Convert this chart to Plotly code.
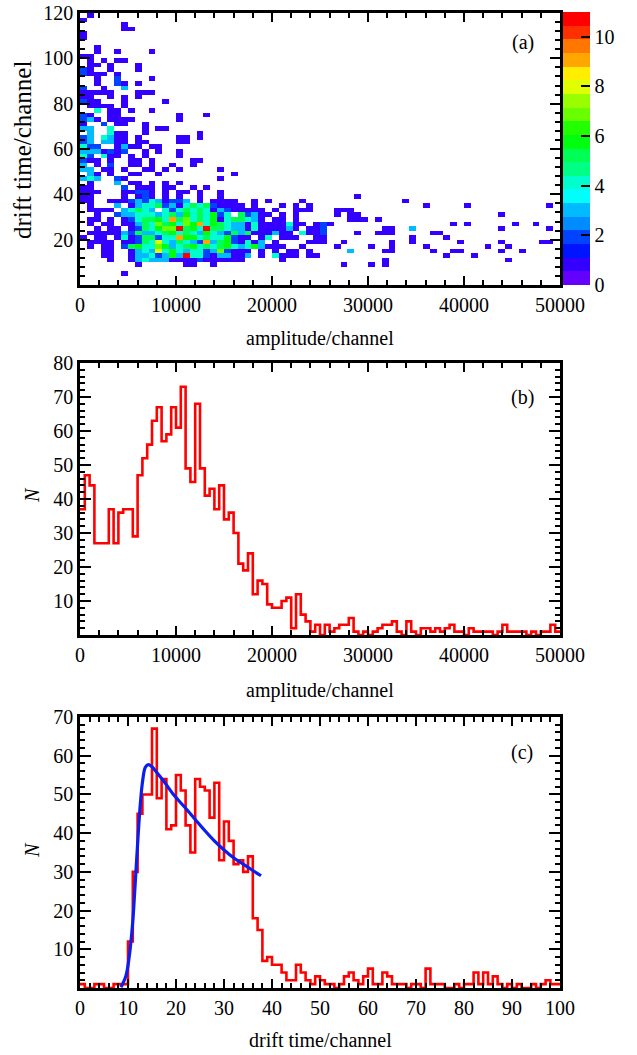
import colorsys
import plotly.graph_objects as go

W, H = 637, 1055

# ---------------- data ----------------
# (a) 2D histogram: drift-time bins of 2 channels (0..120), 70 amplitude bins (0..50000)
# rows listed from the top drift-time bin (118-120) downwards; '.' = empty bin,
# digits = counts, 'A' = 10, 'B' = 11; spaces only separate groups of ten bins.
AMP_MAX = 50000
AMP_BINS_2D = 70
DT_BIN_2D = 2
heat_rows_top_down = [
    ".1",                                   # 59
    "1",                                    # 58
    "......1",                              # 57
    "......11",                             # 56
    "1",                                    # 55
    "1",                                    # 54
    "",                                     # 53
    "..1",                                  # 52
    "..1..1.... 1",                         # 51
    "11",                                   # 50
    ".1.1.11",                              # 49
    ".11.1...1",                            # 48
    "21..1...1",                            # 47
    "2111.1",                               # 46
    "..1..2.... 1",                         # 45
    "..1..21.1",                            # 44
    "2..1..3",                              # 43
    "11111...11 1",                         # 42
    "11..1.1.1",                            # 41
    "211...1... ..1",                       # 40
    ".1111.1",                              # 39
    "..4.11.1.. 1",                         # 38
    "21..11.... ....1...1",                 # 37
    "231.1111.. ....1",                     # 36
    "1..2.11..1",                           # 35
    "33..4....1 .11",                       # 34
    ".3..411..1 .......1",                  # 33
    "23.4311.1. ....11.1",                  # 32
    "23.3311.11 ....11",                    # 31
    "422..1311. 11",                        # 30
    "3331212..1 .1..1",                     # 29
    "42.411.1.1 ....1",                     # 28
    "211.1..11. 1.....11",                  # 27
    "3.1.2..11. 1..1..1",                   # 26
    "33.11.1..1 1.1.1..... 1",              # 25
    ".31.1..11. .1........ ..1",            # 24
    "343..21... .......... 1",              # 23
    ".1...3.11. 1.1.1",                     # 22
    "11....2.11 1.11..1.1",                 # 21
    "111...1122 1.1.11.1.. 1",              # 20
    "11....1.12 1.1.1..1.. 1......... .......... 1",                          # 19
    "11..111232 431223.1.1 111..1.1.. ..1....... .......1",                   # 18
    ".1...3.134 4523145452 1111.1...1 .1.1...... .......... 1.....1... ........1",  # 17
    ".1111.3454 3.42454541 3211111.1. .111...111",                            # 16
    "..1..23344 4345364546 24.52311.1 .1.....1.1 1......... .......... .1",   # 15
    ".11.1.1245 5649574546 1455431.11 .1.......1 11.1",                       # 14
    ".1.11.1135 4756476946 5433141111 411.121... .......... ....1.1... ...1..1",  # 13
    "..1.11.125 4677B564B5 5433141111 31.112.... ....11..3. .......... .1......1",  # 12
    ".111113253 3456454364 3253511131 1.4112.... 1..111.... .11",             # 11
    "1.11.14125 5244966454 46211.14.1 11..11.... ........1. ...1",            # 10
    ".1111.1125 4843543293 5621413.1. ...111..1. .....1..1. .....1.... .1.....11",  # 9
    ".1.11.2564 4763456454 5643463111 ..1....1.. ..1..1.... 1........1 ..1",  # 8
    "...11..134 3846434423 72111.1.1. 11.1.....3 ....11.... .1..11.... .1..1",  # 7
    "...11..133 42363B4421 33113.1.41 11.11..... .......... ...1...1",        # 6
    "....1..134 3331111211 1111.....1 .......... ....1..... .......... ..1",  # 5
    "........1. .....11..1 .......... ........1. ..1.1",                      # 4
    "",                                     # 3
    "......1",                              # 2
    "",                                     # 1
    "",                                     # 0
]

# (b) amplitude spectrum: 100 bins of 500 channels
AMP_BIN_1D = 500
amp_counts = [37, 47, 44, 27, 27, 27, 37, 27, 36, 37,
              37, 29, 47, 52, 56, 63, 67, 57, 59, 67,
              61, 73, 49, 45, 68, 49, 41, 43, 37, 44,
              34, 36, 30, 21, 19, 24, 12, 16, 15, 9,
              8, 8, 10, 11, 2, 12, 6, 4, 1, 3,
              0, 3, 1, 2, 3, 3, 5, 1, 0, 1,
              0, 1, 2, 3, 3, 4, 1, 0, 4, 1,
              0, 2, 2, 1, 2, 1, 2, 3, 1, 1,
              0, 2, 1, 1, 1, 1, 0, 1, 3, 1,
              1, 1, 1, 0, 1, 0, 1, 1, 3, 1]

# (c) drift-time spectrum: 100 bins of 1 channel
DT_BIN_1D = 1
dt_counts = [1, 0, 0, 1, 1, 0, 0, 1, 1, 1,
             12, 30, 45, 50, 50, 67, 49, 54, 41, 42,
             55, 51, 42, 35, 54, 52, 51, 44, 53, 33,
             43, 38, 32, 33, 30, 34, 18, 15, 7, 8,
             6, 6, 4, 2, 2, 6, 4, 2, 1, 3,
             2, 1, 1, 0, 1, 3, 4, 2, 1, 3,
             5, 1, 1, 4, 3, 1, 1, 1, 0, 1,
             1, 0, 5, 1, 1, 1, 0, 0, 1, 0,
             1, 1, 4, 1, 4, 1, 3, 1, 0, 1,
             0, 1, 0, 0, 1, 0, 1, 2, 1, 1]

# (c) fitted curve
fit_x = [8.54, 9.58, 10.28, 10.97, 11.46, 12.01, 12.57, 13.06, 13.61, 14.24,
         14.93, 15.83, 17.57, 19.65, 21.74, 23.82, 25.90, 27.99, 30.07, 32.15,
         34.24, 36.32, 37.71]
fit_y = [0.2, 3.2, 8.3, 16.8, 26.2, 37.4, 47.6, 53.6, 57.0, 57.7,
         57.2, 55.9, 53.2, 49.7, 46.8, 43.8, 40.8, 38.0, 35.6, 33.5,
         31.8, 30.1, 29.0]

x_ticks_amp = [0, 10000, 20000, 30000, 40000, 50000]
y_ticks_a = [20, 40, 60, 80, 100, 120]
y_ticks_b = [10, 20, 30, 40, 50, 60, 70, 80]
x_ticks_c = [0, 10, 20, 30, 40, 50, 60, 70, 80, 90, 100]
y_ticks_c = [10, 20, 30, 40, 50, 60, 70]
cbar_ticks = [0, 2, 4, 6, 8, 10]

# ---------------- build ----------------
def parse_row(s):
    s = s.replace(" ", "").ljust(AMP_BINS_2D, ".")
    out = []
    for ch in s[:AMP_BINS_2D]:
        if ch == ".":
            out.append(None)
        elif ch == "A":
            out.append(10)
        elif ch == "B":
            out.append(11)
        else:
            out.append(int(ch))
    return out

z = [parse_row(r) for r in reversed(heat_rows_top_down)]
amp_w = AMP_MAX / AMP_BINS_2D
hx = [(i + 0.5) * amp_w for i in range(AMP_BINS_2D)]
hy = [(j + 0.5) * DT_BIN_2D for j in range(len(z))]


def band_color(k):
    idx = int((k + 0.99) * 50 / 20)
    hue = 280 - (idx + 1) * 5.6
    r, g, b = colorsys.hls_to_rgb(max(hue, 0) / 360.0, 0.5, 1.0)
    return "rgb(%d,%d,%d)" % (round(r * 255), round(g * 255), round(b * 255))


colorscale = []
for k in range(20):
    c = band_color(k)
    colorscale.append([k / 20, c])
    colorscale.append([(k + 1) / 20, c])

FONT = "Liberation Serif"
TF = dict(family=FONT, size=20, color="black")

fig = go.Figure()

fig.add_trace(go.Heatmap(
    x=hx, y=hy, z=z, zmin=0, zmax=11, colorscale=colorscale, zsmooth=False,
    hoverongaps=False, xaxis="x", yaxis="y",
    colorbar=dict(
        x=563 / W, xanchor="left", xpad=0, ypad=0,
        y=1 - (12 + 285) / 2 / H, yanchor="middle", len=(285 - 12) / H, lenmode="fraction",
        thickness=27, outlinewidth=0,
        tickmode="array", tickvals=cbar_ticks, ticks="inside", ticklen=9,
        tickwidth=2, tickcolor="black", tickfont=TF,
    ),
))

edges_b = [i * AMP_BIN_1D for i in range(len(amp_counts) + 1)]
fig.add_trace(go.Scatter(
    x=edges_b, y=amp_counts + [amp_counts[-1]], mode="lines", line_shape="hv",
    line=dict(color="#ff0000", width=2.6), xaxis="x2", yaxis="y2", showlegend=False,
))

edges_c = [i * DT_BIN_1D for i in range(len(dt_counts) + 1)]
fig.add_trace(go.Scatter(
    x=edges_c, y=dt_counts + [dt_counts[-1]], mode="lines", line_shape="hv",
    line=dict(color="#ff0000", width=2.6), xaxis="x3", yaxis="y3", showlegend=False,
))
fig.add_trace(go.Scatter(
    x=fit_x, y=fit_y, mode="lines", line_shape="spline",
    line=dict(color="#0a1ef0", width=3.2), xaxis="x3", yaxis="y3", showlegend=False,
))


def ax(rng, tickvals, minor_dtick, domain, anchor, ticklen=9, minor_len=5):
    return dict(
        range=rng, domain=domain, anchor=anchor,
        showline=True, linecolor="black", linewidth=2.5, mirror="ticks",
        ticks="inside", ticklen=ticklen, tickwidth=2, tickcolor="black",
        tickmode="array", tickvals=tickvals, ticktext=[str(v) for v in tickvals],
        minor=dict(ticks="inside", ticklen=minor_len, tickwidth=2, tickcolor="black",
                   tick0=0, dtick=minor_dtick, showgrid=False),
        showgrid=False, zeroline=False, tickfont=TF, automargin=False,
    )


XD = [80 / W, 560 / W]


def ydom(top, bottom):
    return [1 - bottom / H, 1 - top / H]


fig.update_layout(
    width=W, height=H, margin=dict(l=0, r=0, t=0, b=0),
    paper_bgcolor="white", plot_bgcolor="white", showlegend=False,
    xaxis=ax([0, 50000], x_ticks_amp, 2000, XD, "y"),
    yaxis=ax([0, 120], y_ticks_a, 4, ydom(13, 285), "x", ticklen=10),
    xaxis2=ax([0, 50000], x_ticks_amp, 2000, XD, "y2"),
    yaxis2=ax([0, 80], y_ticks_b, 2, ydom(363, 635), "x2", ticklen=11),
    xaxis3=ax([0, 100], x_ticks_c, 2, XD, "y3"),
    yaxis3=ax([0, 70], y_ticks_c, 2, ydom(717, 988), "x3", ticklen=11),
)

ann = [
    ("(a)", 523, 43, 0, 20),
    ("(b)", 522, 397, 0, 20),
    ("(c)", 522, 752, 0, 20),
    ("amplitude/channel", 320, 338, 0, 20),
    ("amplitude/channel", 320, 690, 0, 20),
    ("drift time/channel", 320, 1040, 0, 20),
    ("drift time/channel", 22, 150, -90, 25),
    ("<i>N</i>", 32, 495, -90, 20),
    ("<i>N</i>", 32, 850, -90, 20),
]
for text, x, y, ang, size in ann:
    fig.add_annotation(
        text=text, x=x / W, y=1 - y / H, xref="paper", yref="paper",
        showarrow=False, textangle=ang, xanchor="center", yanchor="middle",
        font=dict(family=FONT, size=size, color="black"),
    )

fig.write_html(
    "out.html",
    config={"displayModeBar": False},
    post_script="document.body.style.margin='0px';document.body.style.overflow='hidden';",
)
